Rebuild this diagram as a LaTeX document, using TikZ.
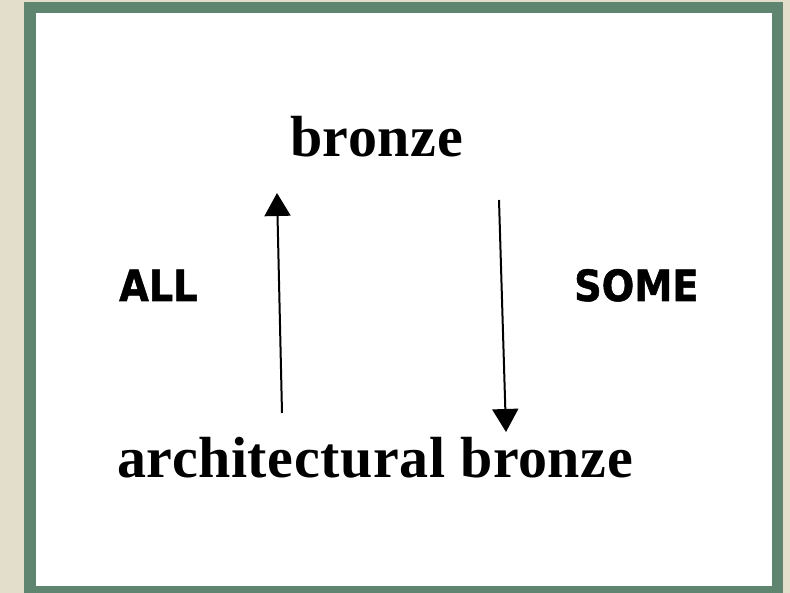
\documentclass[tikz,border=0pt]{standalone}
\usepackage{fontspec}
\setmainfont{Liberation Serif}
\newfontfamily\termfont[LetterSpace=1.0]{Liberation Serif}
\newfontfamily\labelfont[FakeStretch=0.89, BoldFeatures={FakeStretch=0.89, FakeBold=1.2}]{DejaVu Sans}
\usetikzlibrary{arrows.meta}
\definecolor{beige}{HTML}{E2DECB}
\definecolor{framegreen}{HTML}{5F8570}
\tikzset{
  term/.style={anchor=base west, inner sep=0pt, font=\termfont\fontsize{58}{60}\selectfont\bfseries},
  quant/.style={anchor=base west, inner sep=0pt, font=\labelfont\fontsize{43}{45}\selectfont\bfseries},
  arr/.style={line width=2pt, -{Triangle[length=23pt, width=26pt]}}
}
\begin{document}
\begin{tikzpicture}[x=1pt, y=-1pt]
\useasboundingbox (0,0) rectangle (790,593);
\fill[beige] (0,0) rectangle (790,593);
\fill[framegreen] (24,2) rectangle (783,593);
\fill[white] (36,13) rectangle (772,586);
\node[term] (top) at (290,157) {bronze};
\node[term] (bottom) at (117,477) {architectural bronze};
\node[quant] (all) at (119,301) {ALL};
\node[quant] (some) at (574,301) {SOME};
\coordinate (upfrom) at (282,413);
\coordinate (upto) at (277,193);
\coordinate (downfrom) at (499,200);
\coordinate (downto) at (506,432);
\draw[arr] (upfrom) -- (upto);
\draw[arr] (downfrom) -- (downto);
\end{tikzpicture}
\end{document}
